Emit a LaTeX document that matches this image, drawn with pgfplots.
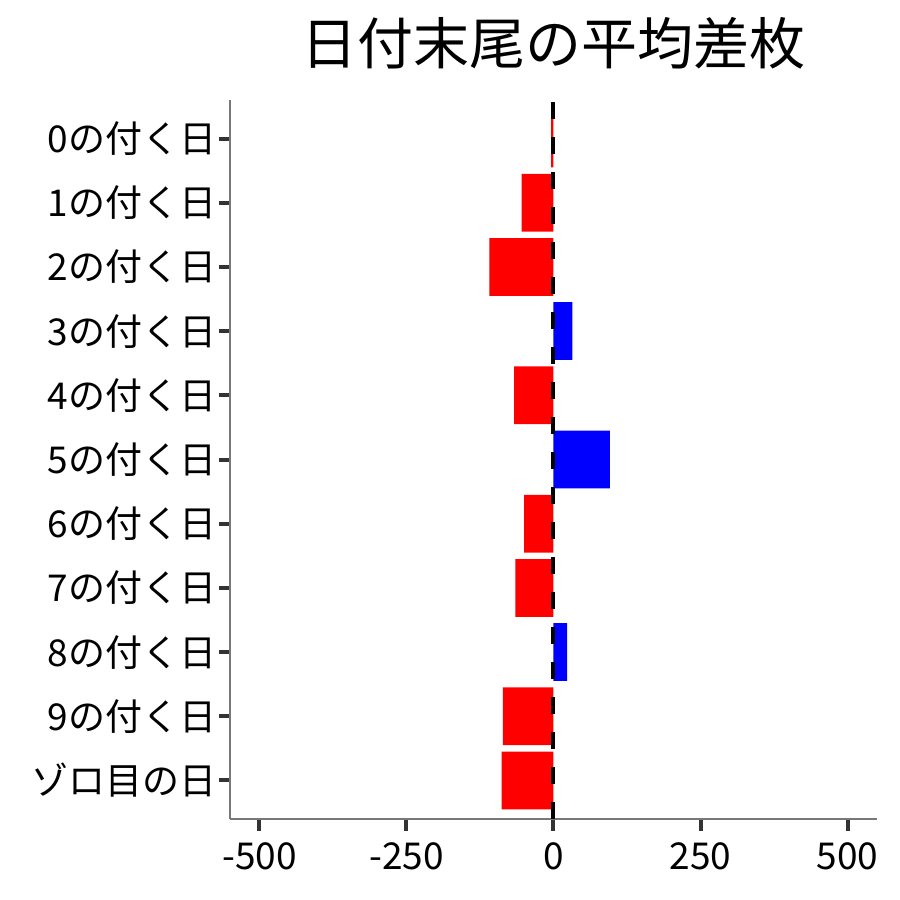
\documentclass[border=0pt]{standalone}
\usepackage{fontspec}
\setmainfont{Noto Sans CJK JP}
\usepackage{pgfplots}
\pgfplotsset{compat=1.18}
\definecolor{axgray}{RGB}{120,120,120}
\definecolor{tkgray}{RGB}{51,51,51}
\begin{document}
\begin{tikzpicture}
\useasboundingbox (0,0) rectangle (450pt,450pt);
\begin{axis}[
  at={(115pt,40.5pt)}, anchor=south west,
  scale only axis, width=323.5pt, height=359.5pt,
  xmin=-550, xmax=550, ymin=-0.6, ymax=10.6,
  y dir=reverse,
  axis lines*=left,
  axis line style={axgray, line width=0.6pt},
  xtick={-500,-250,0,250,500},
  xticklabels={-500,-250,0,250,500},
  ytick={0,...,10},
  yticklabels={0の付く日,1の付く日,2の付く日,3の付く日,4の付く日,5の付く日,6の付く日,7の付く日,8の付く日,9の付く日,ゾロ目の日},
  tick align=outside,
  major tick length=5.75pt,
  tick style={tkgray, line width=2pt},
  ticklabel style={font=\fontsize{18.5}{22}\selectfont, text=black},
  yticklabel style={xshift=2.5pt},
  xticklabel style={yshift=-2.5pt},
  title={日付末尾の平均差枚},
  title style={at={(0.5,1)}, anchor=base, yshift=12pt, font=\fontsize{28}{32}\selectfont},
  xbar, bar width=0.9, bar shift=0pt,
  clip=false,
]
\addplot[fill=red, draw=none] coordinates {(-4,0) (-54,1) (-109,2) (-67,4) (-50,6) (-65,7) (-86,9) (-88,10)};
\addplot[fill=blue, draw=none] coordinates {(32,3) (96,5) (23,8)};
\addplot[sharp plot, black, line width=2pt, dash pattern=on 8.75pt off 8.75pt] coordinates {(0,10.6) (0,-0.6)};
\end{axis}
\end{tikzpicture}
\end{document}
